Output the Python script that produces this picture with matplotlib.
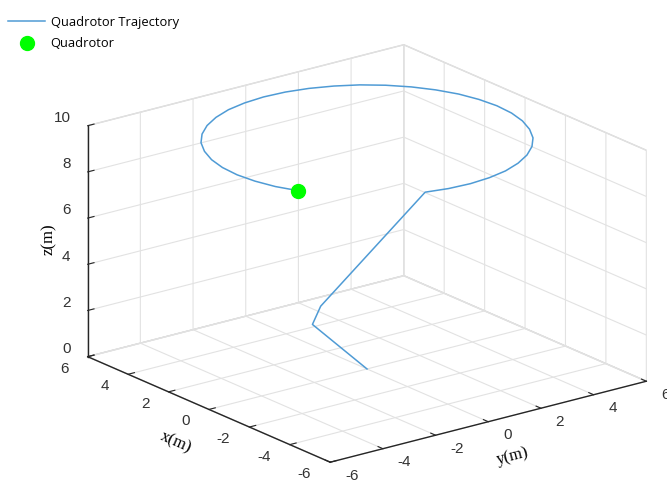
import numpy as np
import matplotlib.pyplot as plt

plt.rcParams["font.family"] = ["Liberation Sans", "DejaVu Sans"]
plt.rcParams["axes.unicode_minus"] = False
plt.rcParams["grid.color"] = "#e2e2e2"
plt.rcParams["grid.linewidth"] = 0.8

# trajectory points (metres):
# take-off leg, climb, then the loop at ~9.9 m
traj_x = [0.0, 2.7, 2.5,
          -4.78, -4.95, -5.00, -4.92, -4.73, -4.41, -3.99, -3.47, -2.87, -2.19,
          -1.46, -0.70, 0.09, 0.87, 1.63, 2.35, 3.01, 3.60, 4.10, 4.49,
          4.78, 4.95, 5.00, 4.92, 4.73, 4.41, 3.99, 3.47, 2.87, 2.19,
          1.46, 0.70, -0.09, -0.87, -1.63, -2.35]
traj_y = [0.0, 0.0, 0.16,
          -1.46, -0.70, 0.09, 0.87, 1.63, 2.35, 3.01, 3.60, 4.10, 4.49,
          4.78, 4.95, 5.00, 4.92, 4.73, 4.41, 3.99, 3.47, 2.87, 2.19,
          1.46, 0.70, -0.09, -0.87, -1.63, -2.35, -3.01, -3.60, -4.10, -4.49,
          -4.78, -4.95, -5.00, -4.92, -4.73, -4.41]
traj_z = [0.0, 0.9, 1.72] + [9.9] * 36

# current quadrotor position
quad_x = [-2.35]
quad_y = [-4.41]
quad_z = [9.9]

x_ticks = [-6, -4, -2, 0, 2, 4, 6]
y_ticks = [-6, -4, -2, 0, 2, 4, 6]
z_ticks = [0, 2, 4, 6, 8, 10]


def main():
    fig = plt.figure(figsize=(6.67, 4.83), dpi=100)
    ax = fig.add_axes([0.1784, -0.0383, 0.7241, 1.0], projection="3d",
                      proj_type="ortho")
    ax.computed_zorder = False

    line, = ax.plot(traj_x, traj_y, traj_z, color="#4f9bd5", lw=1.1,
                    label="Quadrotor Trajectory", zorder=2)
    dot, = ax.plot(quad_x, quad_y, quad_z, "o", color="#00ff00", ms=10,
                   label="Quadrotor", zorder=3)

    ax.set_xlim(6, -6)
    ax.set_ylim(-6, 6)
    ax.set_zlim(0, 10)
    ax.set_xticks(x_ticks)
    ax.set_yticks(y_ticks)
    ax.set_zticks(z_ticks)
    ax.view_init(elev=19.5, azim=-37.5)
    ax.set_box_aspect((1, 1, 0.615), zoom=1.235)

    for axis in (ax.xaxis, ax.yaxis, ax.zaxis):
        axis.set_pane_color((1, 1, 1, 1))
        axis.pane.set_edgecolor("#d4d4d4")
        axis.line.set_color("#262626")
        axis.line.set_linewidth(1.0)
        axis._axinfo["tick"]["inward_factor"] = 0.0
        axis._axinfo["tick"]["outward_factor"] = 0.25
        axis.set_rotate_label(True)

    ax.zaxis.set_ticks_position("lower")
    ax.zaxis.set_label_position("lower")

    ax.tick_params(axis="both", color="#262626", labelcolor="#333333",
                   labelsize=11)
    ax.tick_params(axis="x", pad=3.0)
    ax.tick_params(axis="y", pad=3.0)
    ax.tick_params(axis="z", pad=-2.4)
    for lbl in ax.get_xticklabels():
        lbl.set_ha("right")
        lbl.set_va("bottom")
    for lbl in ax.get_yticklabels():
        lbl.set_ha("left")
        lbl.set_va("bottom")
    for lbl in ax.get_zticklabels():
        lbl.set_ha("right")
        lbl.set_va("bottom")

    serif = {"family": "Liberation Serif", "size": 12}
    ax.set_xlabel("x(m)", fontdict=serif, labelpad=-1.8)
    ax.set_ylabel("y(m)", fontdict=serif, labelpad=-2.5)
    ax.set_zlabel("z(m)", fontdict=serif, labelpad=-8.3)

    fig.legend(handles=[line, dot], loc="upper left",
               bbox_to_anchor=(0.012, 0.967), frameon=False,
               prop={"family": "Open Sans", "size": 9.3}, handlelength=2.9,
               handletextpad=0.4, labelspacing=0.65, borderpad=0,
               borderaxespad=0, numpoints=1)

    fig.savefig("out.png", dpi=100)


if __name__ == "__main__":
    main()
